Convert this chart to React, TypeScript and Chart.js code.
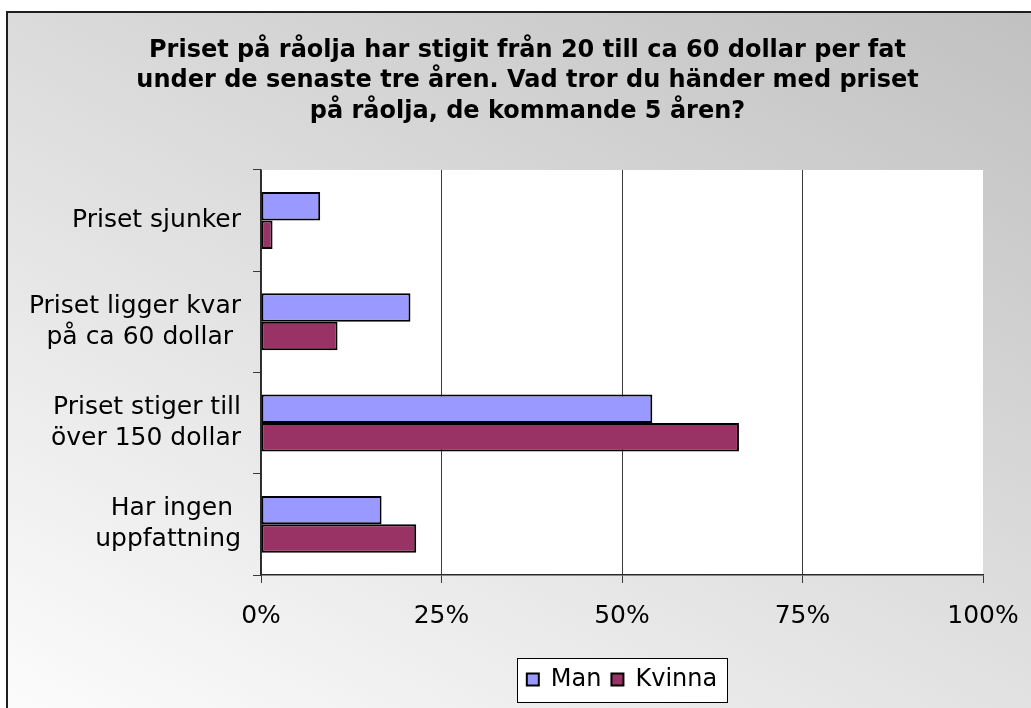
import React, { useEffect, useRef } from "react";
import { Chart, registerables } from "chart.js";

Chart.register(...registerables);

const titleLines = [
  "Priset på råolja har stigit från 20 till ca 60 dollar per fat",
  "under de senaste tre åren. Vad tror du händer med priset",
  "på råolja, de kommande 5 åren?",
];

const categories: string[][] = [
  ["Priset sjunker"],
  ["Priset ligger kvar", "på ca 60 dollar "],
  ["Priset stiger till", "över 150 dollar"],
  ["Har ingen ", "uppfattning"],
];

const seriesNames = ["Man", "Kvinna"];
const manValues = [8.2, 20.7, 54.2, 16.7];
const kvinnaValues = [1.6, 10.6, 66.2, 21.5];

const xTicks = [0, 25, 50, 75, 100];

const FONT = "'DejaVu Sans', Verdana, sans-serif";

const backgroundPlugin = {
  id: "excelBackground",
  beforeDraw(chart: any) {
    const { ctx, width, height, chartArea } = chart;
    ctx.save();
    ctx.fillStyle = "#ffffff";
    ctx.fillRect(0, 0, width, height);
    const g = ctx.createLinearGradient(1031, 0, 506, 984);
    g.addColorStop(0, "rgb(192,192,192)");
    g.addColorStop(1, "rgb(252,252,252)");
    ctx.fillStyle = g;
    ctx.fillRect(8, 13, width - 8, height - 13);
    // frame
    ctx.fillStyle = "#1e1e1e";
    ctx.fillRect(6, 11, 2, height - 11);
    ctx.fillRect(6, 11, width - 6, 2);
    // plot area
    ctx.fillStyle = "#ffffff";
    ctx.fillRect(
      chartArea.left,
      chartArea.top,
      chartArea.right - chartArea.left,
      chartArea.bottom - chartArea.top
    );
    // legend box
    const boxes = chart.legend && chart.legend.legendHitBoxes;
    if (boxes && boxes.length) {
      const minX = Math.min(...boxes.map((b: any) => b.left));
      const maxX = Math.max(...boxes.map((b: any) => b.left + b.width));
      const cy = boxes[0].top + boxes[0].height / 2;
      const x0 = Math.round(minX - 10) + 0.5;
      const x1 = Math.round(maxX + 10) + 0.5;
      const y0 = Math.round(cy - 22) + 0.5;
      const y1 = Math.round(cy + 22) + 0.5;
      ctx.fillStyle = "#ffffff";
      ctx.fillRect(x0, y0, x1 - x0, y1 - y0);
      ctx.strokeStyle = "#000000";
      ctx.lineWidth = 1;
      ctx.strokeRect(x0, y0, x1 - x0, y1 - y0);
    }
    ctx.restore();
  },
};

export default function App() {
  const ref = useRef<HTMLCanvasElement | null>(null);

  useEffect(() => {
    if (!ref.current) return;
    const chart = new Chart(ref.current, {
      type: "bar",
      data: {
        labels: categories,
        datasets: [
          {
            label: seriesNames[0],
            data: manValues,
            backgroundColor: "#9999FF",
            borderColor: "#000000",
            borderWidth: 2,
            borderSkipped: false,
          },
          {
            label: seriesNames[1],
            data: kvinnaValues,
            backgroundColor: "#993366",
            borderColor: "#000000",
            borderWidth: 2,
            borderSkipped: false,
          },
        ],
      },
      options: {
        indexAxis: "y",
        responsive: false,
        animation: false,
        devicePixelRatio: 1,
        datasets: {
          bar: { categoryPercentage: 0.5625, barPercentage: 1 },
        },
        layout: { padding: { left: 24, right: 0, top: 0, bottom: 6.5 } },
        scales: {
          x: {
            type: "linear",
            min: 0,
            max: 100,
            afterBuildTicks(scale: any) {
              scale.ticks = xTicks.map((v) => ({ value: v }));
            },
            afterFit(scale: any) {
              scale.height = 82.5;
              scale.paddingLeft = 0;
              scale.paddingRight = 0;
            },
            ticks: {
              callback: (v: any) => `${v}%`,
              color: "#000000",
              font: { family: FONT, size: 25 },
              padding: 18,
              maxRotation: 0,
              autoSkip: false,
            },
            grid: {
              color: (c: any) =>
                c.tick && c.tick.value === 100 ? "rgba(0,0,0,0)" : "#3a3a3a",
              tickColor: "#3a3a3a",
              tickLength: 8,
              lineWidth: 1,
            },
            border: { color: "#2a2a2a", width: 1.5 },
          },
          y: {
            afterFit(scale: any) {
              scale.width = 237;
            },
            ticks: {
              color: "#000000",
              font: { family: FONT, size: 25, lineHeight: 1.24 },
              padding: 12,
              autoSkip: false,
            },
            grid: {
              drawOnChartArea: false,
              drawTicks: true,
              tickLength: 8,
              color: "#3a3a3a",
              lineWidth: 1,
            },
            border: { color: "#2a2a2a", width: 1.5 },
          },
          yRight: {
            type: "linear",
            position: "right",
            display: true,
            afterFit(scale: any) {
              scale.width = 48;
            },
            grid: { display: false, drawTicks: false },
            ticks: { display: false },
            border: { display: false },
          },
        },
        plugins: {
          title: {
            display: true,
            text: titleLines,
            color: "#000000",
            font: { family: FONT, size: 24, weight: "bold", lineHeight: 1.27 },
            padding: { top: 35.5, bottom: 43 },
          },
          legend: {
            display: true,
            position: "bottom",
            fullSize: false,
            labels: {
              color: "#000000",
              font: { family: FONT, size: 24 },
              boxWidth: 12,
              boxHeight: 12,
              padding: 10,
            },
          },
          tooltip: { enabled: false },
        },
      },
      plugins: [backgroundPlugin],
    });
    return () => chart.destroy();
  }, []);

  return (
    <canvas
      ref={ref}
      width={1031}
      height={708}
      style={{ position: "fixed", left: 0, top: 0, display: "block" }}
    />
  );
}
